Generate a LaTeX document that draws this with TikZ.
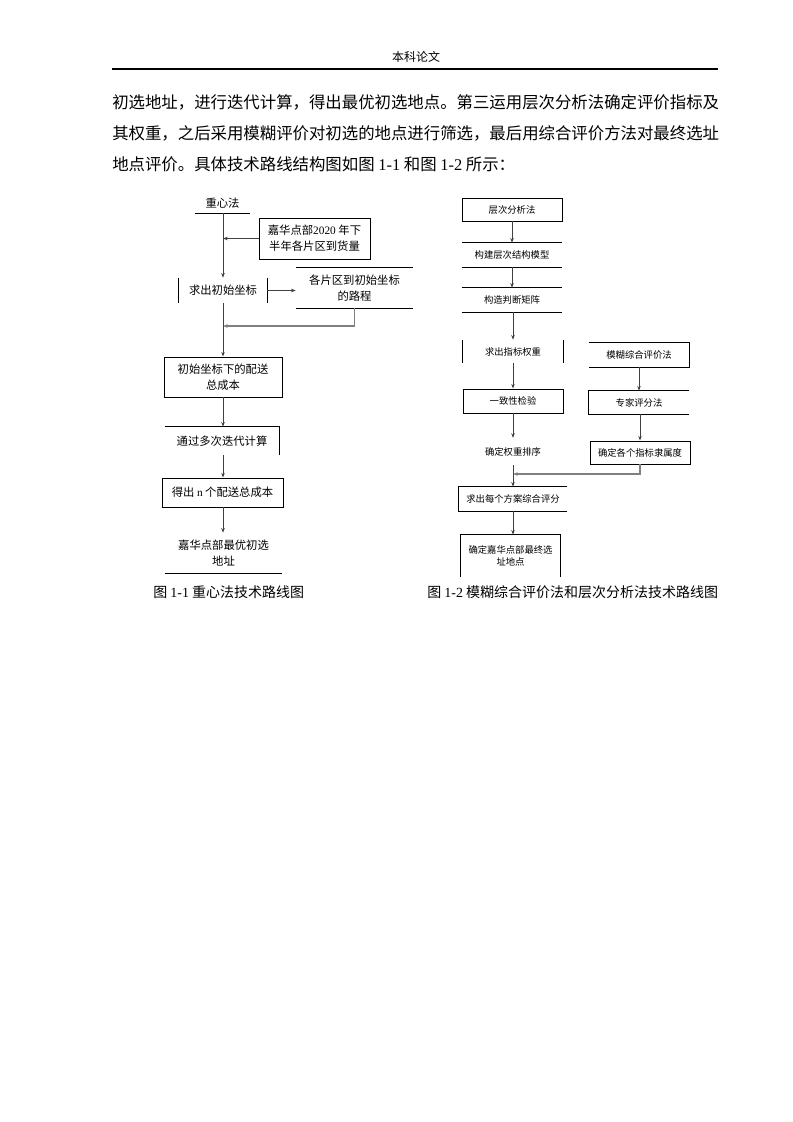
\documentclass[tikz,border=0pt]{standalone}
\usepackage{fontspec}
\setmainfont{Liberation Serif}
\newfontfamily\cjk{Noto Sans CJK SC}
\usepackage{tikz}
\usetikzlibrary{arrows.meta,positioning}
\newcommand{\lat}[1]{{\rmfamily #1}}

\begin{document}
\begin{tikzpicture}[x=0.75pt,y=0.75pt,yscale=-1,xscale=1,
  txt/.style={inner sep=0pt,align=center,font=\cjk\fontsize{8.5}{12}\selectfont},
  rtxt/.style={inner sep=0pt,align=center,font=\cjk\fontsize{7}{9}\selectfont},
  fullbox/.style={draw,line width=0.65pt},
  flow/.style={-{Stealth[length=3.5pt,width=2.6pt]},line width=0.6pt,color=black!75},
  back/.style={-{Stealth[length=3.5pt,width=2.6pt]},line width=0.8pt,color=black!50},
  edge/.style={line width=0.65pt}]
\useasboundingbox (0,0) rectangle (793,1122);

% Page head and text
\node (head) at (416,57) [inner sep=0pt,font=\cjk\fontsize{9}{9}\selectfont] {本科论文};
\draw [line width=0.8pt] (112,69) -- (718,69);
\node (par1) at (112,102) [anchor=west,inner sep=0pt,font=\cjk\fontsize{12.3}{12.3}\selectfont] {初选地址，进行迭代计算，得出最优初选地点。第三运用层次分析法确定评价指标及};
\node (par2) at (112,133) [anchor=west,inner sep=0pt,font=\cjk\fontsize{12.3}{12.3}\selectfont] {其权重，之后采用模糊评价对初选的地点进行筛选，最后用综合评价方法对最终选址};
\node (par3) at (112,164) [anchor=west,inner sep=0pt,font=\cjk\fontsize{12.3}{12.3}\selectfont] {地点评价。具体技术路线结构图如图 \lat{1-1} 和图 \lat{1-2} 所示：};

%% Figure 1-1
% Text Node
\node (zxf) at (222.5,203) [txt,minimum width=41.25pt,minimum height=15pt] {重心法};
\draw [edge] (zxf.south west) -- (zxf.south east);
%Shape: Rectangle
\node (hwb) at (314.5,238.5) [txt,fullbox,minimum width=83.25pt,minimum height=30.75pt] {嘉华点部\lat{2020} 年下\\半年各片区到货量};
% Text Node
\node (qcz) at (223,290.5) [txt,minimum width=66pt,minimum height=18.75pt] {求出初始坐标};
\draw [edge] (qcz.north west) -- (qcz.south west) (qcz.north east) -- (qcz.south east);
% Text Node
\node (lcb) at (354.5,288) [txt,minimum width=87.75pt,minimum height=30pt] {各片区到初始坐标\\的路程};
\draw [edge] (lcb.north west) -- (lcb.north east) (lcb.south west) -- (lcb.south east);
%Shape: Rectangle
\node (zcb) at (223,377) [txt,fullbox,minimum width=88.5pt,minimum height=30pt] {初始坐标下的配送\\总成本};
% Text Node
\node (ddj) at (222,441) [txt,minimum width=85.5pt,minimum height=21pt] {通过多次迭代计算};
\draw [edge] (ddj.north west) -- (ddj.north east) -- (ddj.south east);
%Shape: Rectangle
\node (ncb) at (222.5,492.5) [txt,fullbox,minimum width=90.75pt,minimum height=21.75pt] {得出 \lat{n} 个配送总成本};
% Text Node
\node (zyd) at (223.5,553) [txt,minimum width=87.75pt,minimum height=30pt] {嘉华点部最优初选\\地址};
\draw [edge] (zyd.south west) -- (zyd.south east);
\coordinate (jl) at (223,326);

%Straight Lines
\draw [flow] (zxf.south -| qcz.north) -- (qcz.north);
\draw [flow] (hwb.west) -- (hwb.west -| qcz.north);
\draw [flow] (qcz.east) -- (qcz.east -| lcb.west);
\draw [back] (lcb.south) |- (jl);
\draw [flow] (qcz.south) -- (zcb.north);
\draw [flow] (zcb.south) -- (zcb.south |- ddj.north);
\draw [flow] (zcb.south |- ddj.south) -- (zcb.south |- ncb.north);
\draw [flow] (zcb.south |- ncb.south) -- (zcb.south |- zyd.north);

%% Figure 1-2
%Shape: Rectangle
\node (ccf) at (512,209.5) [rtxt,fullbox,minimum width=75pt,minimum height=17.25pt] {层次分析法};
% Text Node
\node (jgm) at (512,255) [rtxt,minimum width=75pt,minimum height=18pt] {构建层次结构模型};
\draw [edge] (jgm.north west) -- (jgm.north east) (jgm.south west) -- (jgm.south east);
% Text Node
\node (pdj) at (512,300) [rtxt,minimum width=75pt,minimum height=18pt] {构造判断矩阵};
\draw [edge] (pdj.north west) -- (pdj.north east) (pdj.south west) -- (pdj.south east);
% Text Node
\node (zbq) at (513,351.5) [rtxt,minimum width=75pt,minimum height=17.25pt] {求出指标权重};
\draw [edge] (zbq.north west) -- (zbq.south west) (zbq.north east) -- (zbq.south east);
% Text Node
\node (mhp) at (639,355) [rtxt,minimum width=75pt,minimum height=18pt] {模糊综合评价法};
\draw [edge] (mhp.north west) -- (mhp.north east) -- (mhp.south east) -- (mhp.south west);
%Shape: Rectangle
\node (yzx) at (513,401) [rtxt,fullbox,minimum width=75pt,minimum height=18pt] {一致性检验};
% Text Node
\node (zjp) at (639,402.5) [rtxt,minimum width=75pt,minimum height=17.25pt] {专家评分法};
\draw [edge] (zjp.north east) -- (zjp.north west) -- (zjp.south west) -- (zjp.south east);
% Text Node
\node (qzp) at (513,451.5) [rtxt,minimum width=75pt,minimum height=20pt] {确定权重排序};
%Shape: Rectangle
\node (lsd) at (640,452.5) [rtxt,fullbox,minimum width=75pt,minimum height=17.25pt] {确定各个指标隶属度};
% Text Node
\node (zhp) at (513,499) [rtxt,minimum width=81pt,minimum height=18pt] {求出每个方案综合评分};
\draw [edge] (zhp.north east) -- (zhp.north west) -- (zhp.south west) -- (zhp.south east);
% Text Node
\node (zzd) at (510.5,556) [rtxt,minimum width=74.25pt,minimum height=31.5pt] {确定嘉华点部最终选\\址地点};
\draw [edge] (zzd.south west) -- (zzd.north west) -- (zzd.north east) -- (zzd.south east);
\coordinate (jr) at (513,474);

%Straight Lines
\draw [flow] (ccf.south) -- (ccf.south |- jgm.north);
\draw [flow] (jgm.south) -- (pdj.north);
\draw [flow] (pdj.south -| zbq.north) -- (zbq.north);
\draw [flow] (zbq.south) -- (yzx.north);
\draw [flow] (yzx.south) -- (qzp.north);
\draw [flow] (mhp.south) -- (zjp.north);
\draw [flow] (zjp.south -| lsd.north) -- (lsd.north);
\draw [back] (lsd.south) |- (jr);
\draw [flow] (qzp.south) -- (zhp.north);
\draw [flow] (zhp.south) -- (zhp.south |- zzd.north);

% Captions
\node (capa) at (153,592) [anchor=west,inner sep=0pt,font=\cjk\fontsize{10.5}{10.5}\selectfont] {图 \lat{1-1} 重心法技术路线图};
\node (capb) at (427,592) [anchor=west,inner sep=0pt,font=\cjk\fontsize{10.5}{10.5}\selectfont] {图 \lat{1-2} 模糊综合评价法和层次分析法技术路线图};

\end{tikzpicture}
\end{document}
